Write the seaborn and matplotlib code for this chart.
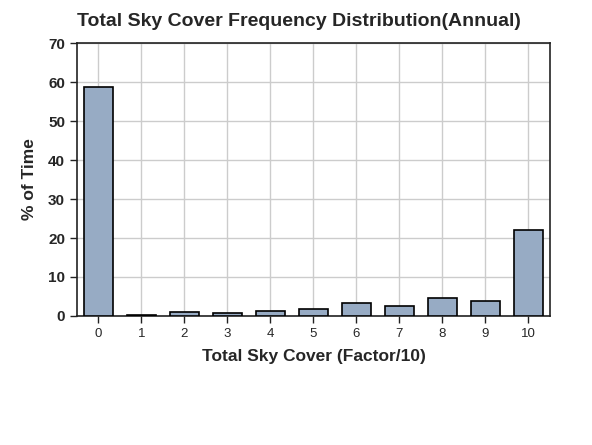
import matplotlib
matplotlib.use("Agg")
import matplotlib.pyplot as plt
import seaborn as sns
import pandas as pd

# Data
sky_cover = ["0", "1", "2", "3", "4", "5", "6", "7", "8", "9", "10"]
pct_time = [58.7, 0.3, 0.9, 0.8, 1.3, 1.8, 3.3, 2.6, 4.6, 3.8, 22.0]

df = pd.DataFrame({"cover": sky_cover, "pct": pct_time})

sns.set_style("white")
plt.rcParams["font.family"] = ["Liberation Sans", "DejaVu Sans"]

fig = plt.figure(figsize=(5.92, 4.45), dpi=100)
ax = fig.add_axes([0.130, 0.290, 0.799, 0.613])

sns.barplot(data=df, x="cover", y="pct", color="#97abc4", saturation=1,
            width=0.68, edgecolor="black", linewidth=1.2, ax=ax, zorder=3)

ax.set_ylim(0, 70)
ax.set_xlim(-0.5, 10.5)
ax.set_yticks(range(0, 71, 10))
ax.grid(True, color="#cccccc", linewidth=1, zorder=0)
ax.set_axisbelow(True)
for s in ax.spines.values():
    s.set_color("#222222")
    s.set_linewidth(1.2)
ax.tick_params(axis="both", direction="out", length=5, width=1, color="#222222",
               labelsize=9.5, bottom=True, left=True)
for lbl in ax.get_yticklabels():
    lbl.set_fontweight("bold")
    lbl.set_fontsize(11)

# title is centred on the whole image, not on the axes
fig.text(0.505, 0.951, "Total Sky Cover Frequency Distribution(Annual)",
         fontsize=14, fontweight="bold", ha="center", va="center")
ax.set_xlabel("Total Sky Cover (Factor/10)", fontsize=12.5, fontweight="bold", labelpad=7)
ax.set_ylabel("% of Time", fontsize=12.5, fontweight="bold", labelpad=8)

fig.savefig("out.png", dpi=100, facecolor="white")
